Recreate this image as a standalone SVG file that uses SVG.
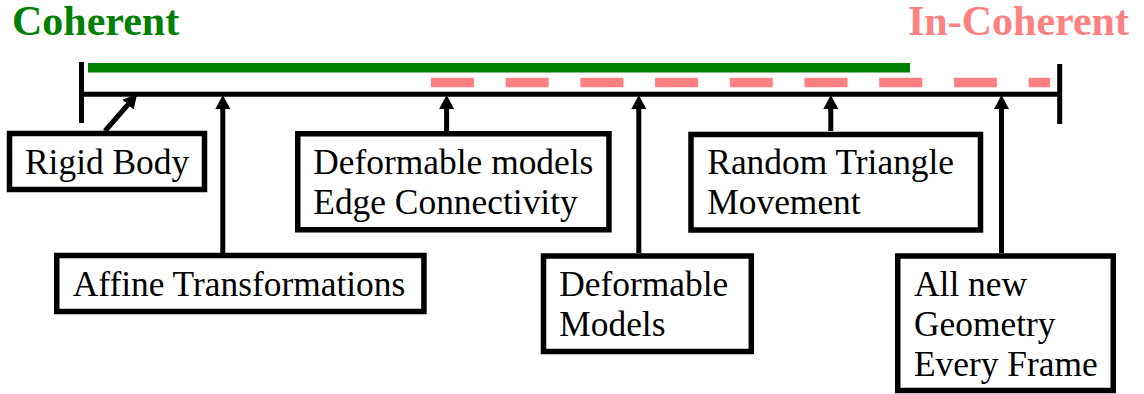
<svg xmlns="http://www.w3.org/2000/svg" width="1144" height="394" viewBox="0 0 1144 394">
  <style>
    .box { fill: #ffffff; stroke: #000000; stroke-width: 5.5; }
    .lbl { font-family: "Liberation Serif", "Times New Roman", serif; font-size: 35.4px; font-variant-ligatures: none; fill: #000000; }
    .title { font-family: "Liberation Serif", "Times New Roman", serif; font-size: 42px; font-weight: bold; }
    .axis { stroke: #000000; stroke-width: 5; fill: none; }
    .link { stroke: #000000; stroke-width: 5; fill: none; marker-end: url(#head); }
  </style>
  <defs>
    <marker id="head" markerUnits="userSpaceOnUse" markerWidth="15" markerHeight="15" refX="4" refY="7.5" orient="auto">
      <path d="M0,0 L14,7.5 L0,15 Z" fill="#000000"/>
    </marker>
  </defs>

  <rect x="0" y="0" width="1144" height="394" fill="#ffffff"/>

  <!-- scale headings -->
  <text class="title" x="12" y="35" fill="#008000">Coherent</text>
  <text class="title" x="908" y="35" fill="#ff8080">In-Coherent</text>

  <!-- coherence ranges -->
  <line x1="88" y1="67.8" x2="910" y2="67.8" stroke="#008000" stroke-width="9.5"/>
  <line x1="431" y1="82.5" x2="1050" y2="82.5" stroke="#ff8080" stroke-width="9.5" stroke-dasharray="43 31.7"/>

  <!-- axis with end ticks -->
  <g id="axis">
    <line class="axis" x1="81.5" y1="94.2" x2="1059.7" y2="94.2"/>
    <line class="axis" x1="81.5" y1="62" x2="81.5" y2="123"/>
    <line class="axis" x1="1059.7" y1="64" x2="1059.7" y2="124"/>
  </g>

  <!-- connectors -->
  <g id="connectors">
    <line class="link" x1="105" y1="131" x2="130.6" y2="101.6"/>
    <line class="link" x1="222.8" y1="253" x2="222.8" y2="105"/>
    <line class="link" x1="446.6" y1="131" x2="446.6" y2="105"/>
    <line class="link" x1="638.8" y1="253" x2="638.8" y2="105"/>
    <line class="link" x1="830.8" y1="131" x2="830.8" y2="105"/>
    <line class="link" x1="1001.5" y1="253" x2="1001.5" y2="105"/>
  </g>

  <!-- nodes -->
  <g id="rigid-body">
    <rect class="box" x="9.5" y="133.5" width="195" height="56"/>
    <text class="lbl" x="25" y="174">Rigid Body</text>
  </g>
  <g id="affine">
    <rect class="box" x="56.75" y="255.5" width="367.2" height="56"/>
    <text class="lbl" x="72.7" y="295.7">Affine Transformations</text>
  </g>
  <g id="deformable-edge">
    <rect class="box" x="297.75" y="133.75" width="311.2" height="96"/>
    <text class="lbl" x="313.3" y="173.5">Deformable models</text>
    <text class="lbl" x="313.3" y="213.5">Edge Connectivity</text>
  </g>
  <g id="deformable-models">
    <rect class="box" x="543.5" y="256" width="207.8" height="95.5"/>
    <text class="lbl" x="559.3" y="295.7">Deformable</text>
    <text class="lbl" x="559.3" y="335.7">Models</text>
  </g>
  <g id="random-triangle">
    <rect class="box" x="691" y="134.5" width="289.5" height="95.5"/>
    <text class="lbl" x="707.3" y="174">Random Triangle</text>
    <text class="lbl" x="707.3" y="214">Movement</text>
  </g>
  <g id="all-new">
    <rect class="box" x="897.75" y="256" width="215.5" height="134.5"/>
    <text class="lbl" x="914" y="295.7">All new</text>
    <text class="lbl" x="914" y="335.7">Geometry</text>
    <text class="lbl" x="914" y="375.7">Every Frame</text>
  </g>
</svg>
